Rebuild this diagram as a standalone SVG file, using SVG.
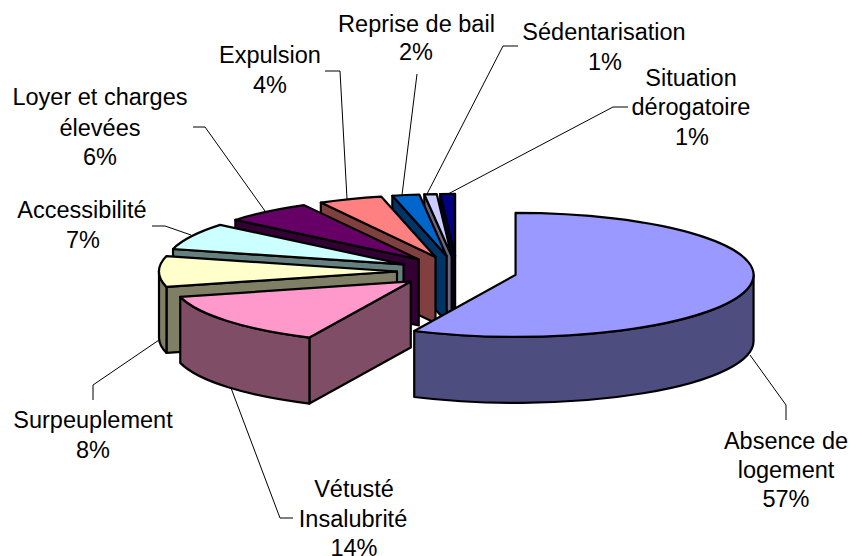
<svg xmlns="http://www.w3.org/2000/svg" width="854" height="556" viewBox="0 0 854 556">
<style>
.s{stroke:#000;stroke-width:2.2;stroke-linejoin:round}
.t{font-family:"Liberation Sans",Arial,sans-serif;font-size:23.5px;fill:#000;text-anchor:middle}
.c{fill:none;stroke:#000;stroke-width:1}
</style>
<rect width="854" height="556" fill="#fff"/>
<g id="slice-situation">
<path class="s" fill="#000040" d="M455.12,255.88 L440.18,194 L440.18,260 L455.12,321.88 Z"/>
<path class="s" fill="#000080" d="M455.12,255.88 L440.18,194 A238,62 0 0 1 455.12,193.88 Z"/>
<text class="t" x="691" y="86">Situation</text>
<text class="t" x="691" y="115">dérogatoire</text>
<text class="t" x="692" y="145">1%</text>
</g>
<g id="slice-sedentarisation">
<path class="s" fill="#666680" d="M451.67,255.93 L424.31,194.34 L424.31,260.34 L451.67,321.93 Z"/>
<path class="s" fill="#CCCCFF" d="M451.67,255.93 L424.31,194.34 A238,62 0 0 1 436.73,194.05 Z"/>
<text class="t" x="604" y="40">Sédentarisation</text>
<text class="t" x="605" y="70">1%</text>
</g>
<g id="slice-reprise">
<path class="s" fill="#003366" d="M446.68,256.1 L392.33,195.74 L392.33,261.74 L446.68,322.1 Z"/>
<path class="s" fill="#0066CC" d="M446.68,256.1 L392.33,195.74 A238,62 0 0 1 419.32,194.51 Z"/>
<text class="t" x="416.5" y="32">Reprise de bail</text>
<text class="t" x="416" y="60">2%</text>
</g>
<g id="slice-expulsion">
<path class="s" fill="#804040" d="M435.5,256.91 L320.84,202.58 L320.84,268.58 L435.5,322.91 Z"/>
<path class="s" fill="#FF8080" d="M435.5,256.91 L320.84,202.58 A238,62 0 0 1 381.15,196.55 Z"/>
<text class="t" x="270" y="63">Expulsion</text>
<text class="t" x="270" y="93">4%</text>
</g>
<g id="slice-loyer">
<path class="s" fill="#330033" d="M418.75,259.46 L235.37,219.94 L235.37,285.94 L418.75,325.46 Z"/>
<path class="s" fill="#660066" d="M418.75,259.46 L235.37,219.94 A238,62 0 0 1 304.09,205.13 Z"/>
<text class="t" x="100" y="105">Loyer et charges</text>
<text class="t" x="100" y="136">élevées</text>
<text class="t" x="100" y="165">6%</text>
</g>
<g id="slice-accessibilite">
<path class="s" fill="#668080" d="M403.54,264.4 L173.02,248.98 L173.02,314.98 L403.54,330.4 Z"/>
<path class="s" fill="#CCFFFF" d="M403.54,264.4 L173.02,248.98 A238,62 0 0 1 220.16,224.88 Z"/>
<text class="t" x="82" y="218">Accessibilité</text>
<text class="t" x="83" y="248">7%</text>
</g>
<g id="slice-surpeuplement">
<path class="s" fill="#7F7F66" d="M397,271.5 L166.48,286.92 L166.48,352.92 L397,337.5 Z"/>
<path class="s" fill="#7F7F66" d="M166.48,286.92 A238,62 0 0 1 159,271.5 L159,337.5 A238,62 0 0 0 166.48,352.92 Z"/>
<path class="s" fill="#FFFFCC" d="M397,271.5 L166.48,286.92 A238,62 0 0 1 166.48,256.08 Z"/>
<text class="t" x="93" y="428">Surpeuplement</text>
<text class="t" x="93" y="458">8%</text>
</g>
<g id="slice-vetuste">
<path class="s" fill="#804D66" d="M410.77,281.46 L309.43,337.56 L309.43,403.56 L410.77,347.46 Z"/>
<path class="s" fill="#804D66" d="M309.43,337.56 A238,62 0 0 1 180.25,296.88 L180.25,362.88 A238,62 0 0 0 309.43,403.56 Z"/>
<path class="s" fill="#FF99CC" d="M410.77,281.46 L309.43,337.56 A238,62 0 0 1 180.25,296.88 Z"/>
<text class="t" x="354" y="497">Vétusté</text>
<text class="t" x="353" y="527">Insalubrité</text>
<text class="t" x="354" y="556">14%</text>
</g>
<g id="slice-absence">
<path class="s" fill="#4D4D80" d="M753.56,274.91 A238,62 0 0 1 414.22,331.01 L414.22,397.01 A238,62 0 0 0 753.56,340.91 Z"/>
<path class="s" fill="#9999FF" d="M515.56,274.91 L515.56,212.91 A238,62 0 1 1 414.22,331.01 Z"/>
<text class="t" x="786" y="449">Absence de</text>
<text class="t" x="786" y="478">logement</text>
<text class="t" x="786" y="507">57%</text>
</g>
<g id="connectors">
<polyline class="c" points="750,355 786,405 786,420"/>
<polyline class="c" points="231,388 280,518 293,518"/>
<polyline class="c" points="159,340 93,385 93,400"/>
<polyline class="c" points="152,226 165,226 191,235"/>
<polyline class="c" points="193,127 205,127 265,211"/>
<polyline class="c" points="325,71 340,71 347,199"/>
<polyline class="c" points="417,74 402,195"/>
<polyline class="c" points="518,46 503,46 427,194"/>
<polyline class="c" points="628,107 613,107 448,194"/>
</g>
</svg>
